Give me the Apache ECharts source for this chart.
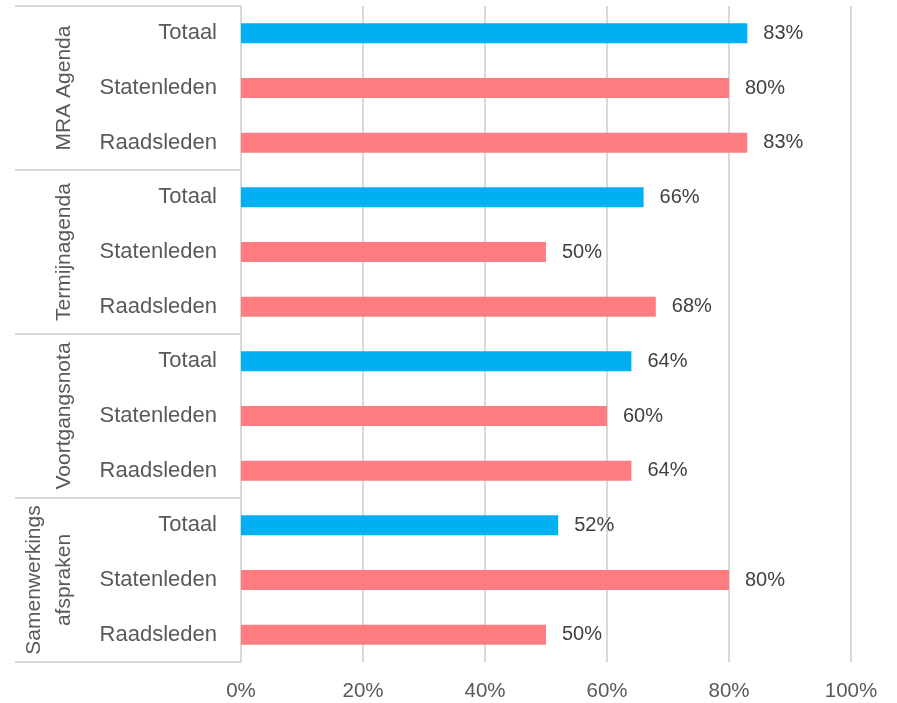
<!DOCTYPE html>
<html>
<head>
<meta charset="utf-8">
<script src="https://cdn.jsdelivr.net/npm/echarts@6/dist/echarts.min.js"></script>
<style>html,body{margin:0;padding:0;background:#fff;}#c{width:897px;height:703px;}</style>
</head>
<body>
<div id="c"></div>
<script>
const groups = ['MRA Agenda', 'Termijnagenda', 'Voortgangsnota', 'Samenwerkings\nafspraken'];
const subCategories = ['Totaal', 'Statenleden', 'Raadsleden'];
const mraAgenda = [83, 80, 83];
const termijnagenda = [66, 50, 68];
const voortgangsnota = [64, 60, 64];
const samenwerkingsafspraken = [52, 80, 50];
const xTicks = [0, 20, 40, 60, 80, 100];

const groupValues = [mraAgenda, termijnagenda, voortgangsnota, samenwerkingsafspraken];
const categories = [];
const data = [];
groupValues.forEach(function (vals) {
  vals.forEach(function (v, i) {
    categories.push(subCategories[i]);
    data.push({
      value: v,
      itemStyle: { color: subCategories[i] === 'Totaal' ? '#00B0F0' : '#FF7C80' }
    });
  });
});

const FONT = 'Liberation Sans';
const chart = echarts.init(document.getElementById('c'), null, { renderer: 'canvas' });
chart.setOption({
  animation: false,
  backgroundColor: '#ffffff',
  textStyle: { fontFamily: FONT },
  grid: { left: 241, right: 46, top: 6, bottom: 41, containLabel: false },
  xAxis: {
    type: 'value',
    min: xTicks[0],
    max: xTicks[xTicks.length - 1],
    interval: xTicks[1] - xTicks[0],
    axisLine: { show: false },
    axisTick: { show: false },
    splitLine: { show: true, lineStyle: { color: '#D9D9D9', width: 2 } },
    axisLabel: { formatter: '{value}%', color: '#595959', fontSize: 20.5, fontFamily: FONT, margin: 19 }
  },
  yAxis: [
    {
      type: 'category',
      data: categories,
      inverse: true,
      position: 'left',
      axisLine: { show: true, lineStyle: { color: '#D9D9D9', width: 2 } },
      axisTick: { show: false },
      splitLine: { show: false },
      axisLabel: { color: '#595959', fontSize: 22, fontFamily: FONT, margin: 24, interval: 0 }
    },
    {
      type: 'category',
      data: groups,
      inverse: true,
      position: 'left',
      offset: 0,
      axisLine: { show: false },
      axisTick: { show: true, length: 226, lineStyle: { color: '#D9D9D9', width: 2 } },
      splitLine: { show: false },
      axisLabel: {
        rotate: 90, color: '#595959', fontSize: 21, fontFamily: FONT,
        margin: 162, align: 'center', verticalAlign: 'bottom', lineHeight: 30, interval: 0
      }
    }
  ],
  series: [{
    type: 'bar',
    yAxisIndex: 0,
    data: data,
    barWidth: 20,
    label: {
      show: true, position: 'right', distance: 16,
      formatter: '{c}%', color: '#404040', fontSize: 20, fontFamily: FONT
    }
  }]
});
</script>
</body>
</html>
